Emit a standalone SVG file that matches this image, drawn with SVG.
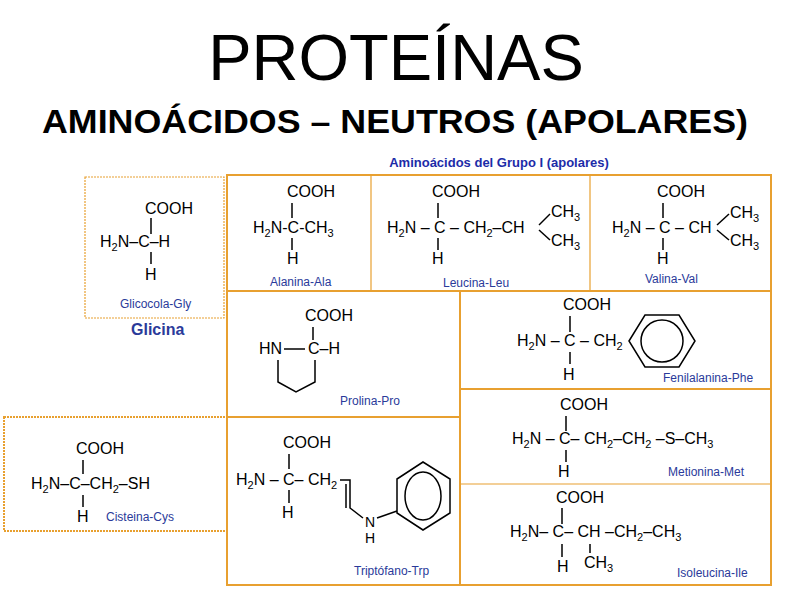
<svg xmlns="http://www.w3.org/2000/svg" width="794" height="595" viewBox="0 0 794 595">
<style>
text{font-family:"Liberation Sans",Arial,sans-serif;fill:#000}
.f{font-size:16px}
.s{font-size:11px}
.lb{font-size:12px;fill:#2a3a9a}
.box{fill:none;stroke:#e8a030;stroke-width:2}
.thin{fill:none;stroke:#e8a030;stroke-width:1.2}
.b{stroke:#000;stroke-width:1.5;fill:none}
</style>
<rect width="794" height="595" fill="#fff"/>
<text x="396" y="80" font-size="65" text-anchor="middle">PROTEÍNAS</text>
<text x="42" y="133" font-size="33" font-weight="bold" textLength="706" lengthAdjust="spacingAndGlyphs">AMINOÁCIDOS – NEUTROS (APOLARES)</text>
<text x="499" y="167" font-size="13" font-weight="bold" text-anchor="middle" style="fill:#1c2ca8">Aminoácidos del Grupo I (apolares)</text>

<g id="frames">
<rect class="box" x="227" y="175" width="544" height="410"/>
<line class="box" x1="227" y1="291" x2="771" y2="291"/>
<line class="thin" x1="371" y1="175" x2="371" y2="291"/>
<line class="thin" x1="590" y1="175" x2="590" y2="291"/>
<line class="box" x1="460" y1="291" x2="460" y2="585"/>
<line class="box" x1="227" y1="417" x2="460" y2="417"/>
<line class="box" x1="460" y1="389" x2="771" y2="389"/>
<line class="thin" x1="460" y1="484" x2="771" y2="484"/>
<rect class="thin" x="85" y="177" width="139" height="141" stroke-dasharray="2 1"/>
<rect class="box" x="4" y="417" width="223" height="114" stroke-dasharray="2 1"/>
</g>

<g id="glicina">
<text class="f" x="145" y="214">COOH</text>
<line class="b" x1="151" y1="218" x2="151" y2="234"/>
<text class="f" x="100" y="247">H<tspan class="s" dy="4">2</tspan><tspan dy="-4">N–C–H</tspan></text>
<line class="b" x1="151" y1="252" x2="151" y2="264"/>
<text class="f" x="145" y="280">H</text>
<text class="lb" x="120" y="308">Glicocola-Gly</text>
<text x="131" y="335" font-size="16" font-weight="bold" style="fill:#2a3a9a">Glicina</text>
</g>

<g id="alanina">
<text class="f" x="287" y="197">COOH</text>
<line class="b" x1="292" y1="203" x2="292" y2="218"/>
<text class="f" x="253" y="233">H<tspan class="s" dy="4">2</tspan><tspan dy="-4">N-C-CH</tspan><tspan class="s" dy="4">3</tspan></text>
<line class="b" x1="292" y1="238" x2="292" y2="250"/>
<text class="f" x="287" y="264">H</text>
<text class="lb" x="270" y="286">Alanina-Ala</text>
</g>

<g id="leucina">
<text class="f" x="432" y="197">COOH</text>
<line class="b" x1="438" y1="203" x2="438" y2="218"/>
<text class="f" x="387" y="233">H<tspan class="s" dy="4">2</tspan><tspan dy="-4">N – C – CH</tspan><tspan class="s" dy="4">2</tspan><tspan dy="-4">–CH</tspan></text>
<line class="b" x1="539" y1="225" x2="550" y2="214"/>
<line class="b" x1="539" y1="230" x2="550" y2="240"/>
<text class="f" x="551" y="217">CH<tspan class="s" dy="4">3</tspan></text>
<text class="f" x="551" y="246">CH<tspan class="s" dy="4">3</tspan></text>
<line class="b" x1="438" y1="238" x2="438" y2="250"/>
<text class="f" x="432" y="264">H</text>
<text class="lb" x="443" y="287">Leucina-Leu</text>
</g>

<g id="valina">
<text class="f" x="657" y="197">COOH</text>
<line class="b" x1="663" y1="203" x2="663" y2="218"/>
<text class="f" x="612" y="233">H<tspan class="s" dy="4">2</tspan><tspan dy="-4">N – C – CH</tspan></text>
<line class="b" x1="717" y1="225" x2="729" y2="214"/>
<line class="b" x1="717" y1="230" x2="729" y2="240"/>
<text class="f" x="730" y="218">CH<tspan class="s" dy="4">3</tspan></text>
<text class="f" x="730" y="246">CH<tspan class="s" dy="4">3</tspan></text>
<line class="b" x1="663" y1="238" x2="663" y2="250"/>
<text class="f" x="657" y="264">H</text>
<text class="lb" x="645" y="283">Valina-Val</text>
</g>

<g id="prolina">
<text class="f" x="305" y="321">COOH</text>
<line class="b" x1="313" y1="327" x2="313" y2="340"/>
<text class="f" x="259" y="354">HN</text>
<line class="b" x1="284" y1="349" x2="305" y2="349"/>
<text class="f" x="308" y="354">C–H</text>
<polyline class="b" points="278,360 278,382 296,392 315,382 315,360"/>
<text class="lb" x="340" y="405">Prolina-Pro</text>
</g>

<g id="fenilalanina">
<text class="f" x="563" y="310">COOH</text>
<line class="b" x1="570" y1="316" x2="570" y2="332"/>
<text class="f" x="517" y="346">H<tspan class="s" dy="4">2</tspan><tspan dy="-4">N – C – CH</tspan><tspan class="s" dy="4">2</tspan></text>
<line class="b" x1="570" y1="352" x2="570" y2="364"/>
<text class="f" x="563" y="380">H</text>
<polygon class="b" stroke-width="1" points="629,341 645,315 679,315 695,341 679,367 645,367"/>
<circle class="b" stroke-width="1" cx="662" cy="341" r="21"/>
<text class="lb" x="663" y="382">Fenilalanina-Phe</text>
</g>

<g id="metionina">
<text class="f" x="560" y="410">COOH</text>
<line class="b" x1="566" y1="416" x2="566" y2="431"/>
<text class="f" x="512" y="444">H<tspan class="s" dy="4">2</tspan><tspan dy="-4">N – C– CH</tspan><tspan class="s" dy="4">2</tspan><tspan dy="-4">–CH</tspan><tspan class="s" dy="4">2</tspan><tspan dy="-4"> –S–CH</tspan><tspan class="s" dy="4">3</tspan></text>
<line class="b" x1="566" y1="450" x2="566" y2="462"/>
<text class="f" x="558" y="477">H</text>
<text class="lb" x="668" y="476">Metionina-Met</text>
</g>

<g id="isoleucina">
<text class="f" x="556" y="503">COOH</text>
<line class="b" x1="562" y1="508" x2="562" y2="524"/>
<text class="f" x="510" y="537">H<tspan class="s" dy="4">2</tspan><tspan dy="-4">N– C– CH –CH</tspan><tspan class="s" dy="4">2</tspan><tspan dy="-4">–CH</tspan><tspan class="s" dy="4">3</tspan></text>
<line class="b" x1="562" y1="544" x2="562" y2="557"/>
<line class="b" x1="590" y1="544" x2="590" y2="553"/>
<text class="f" x="557" y="572">H</text>
<text class="f" x="584" y="568">CH<tspan class="s" dy="4">3</tspan></text>
<text class="lb" x="677" y="577">Isoleucina-Ile</text>
</g>

<g id="cisteina">
<text class="f" x="76" y="454">COOH</text>
<line class="b" x1="83" y1="460" x2="83" y2="474"/>
<text class="f" x="31" y="489">H<tspan class="s" dy="4">2</tspan><tspan dy="-4">N–C–CH</tspan><tspan class="s" dy="4">2</tspan><tspan dy="-4">–SH</tspan></text>
<line class="b" x1="83" y1="495" x2="83" y2="507"/>
<text class="f" x="77" y="522">H</text>
<text class="lb" x="106" y="521">Cisteina-Cys</text>
</g>

<g id="triptofano">
<text class="f" x="283" y="448">COOH</text>
<line class="b" x1="289" y1="454" x2="289" y2="469"/>
<text class="f" x="236" y="485">H<tspan class="s" dy="4">2</tspan><tspan dy="-4">N – C– CH</tspan><tspan class="s" dy="4">2</tspan></text>
<line class="b" x1="289" y1="490" x2="289" y2="503"/>
<text class="f" x="282" y="518">H</text>
<polyline class="b" stroke-width="1" points="340,480 350,480 350,508 363,518"/>
<line class="b" stroke-width="1" x1="346" y1="484" x2="346" y2="508"/>
<text x="365" y="527" font-size="14">N</text>
<text x="365" y="543" font-size="14">H</text>
<line class="b" stroke-width="1" x1="377" y1="518" x2="397" y2="511"/>
<polygon class="b" stroke-width="1" points="397,479 423,462 450,479 450,513 423,530 397,513"/>
<ellipse class="b" stroke-width="1" cx="423" cy="496" rx="18" ry="24"/>
<text class="lb" x="354" y="575">Triptófano-Trp</text>
</g>
</svg>
